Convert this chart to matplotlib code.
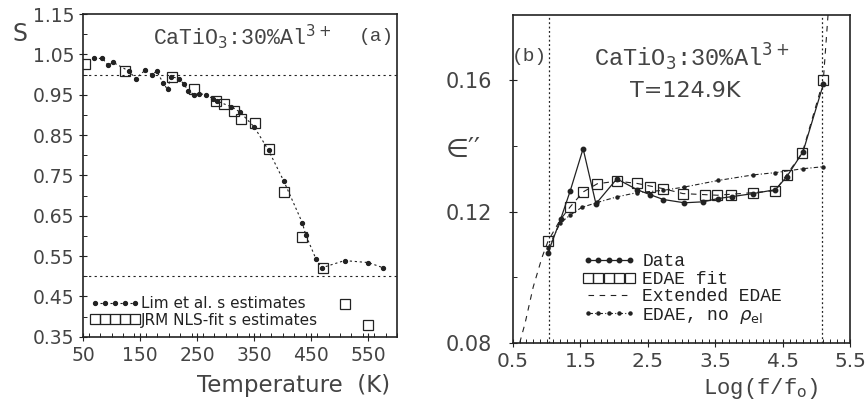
import matplotlib
matplotlib.use("Agg")
import matplotlib.pyplot as plt
from matplotlib.ticker import MultipleLocator, FixedLocator

# ---- panel (a): s estimates vs temperature ----
lim_T = [69, 84, 94, 103, 131, 142, 159, 170, 179, 190, 198, 204, 218, 227,
         234, 245, 253, 265, 278, 285, 310, 325, 350, 375, 402, 434, 440,
         458, 468, 508, 550, 576]
lim_S = [1.040, 1.040, 1.023, 1.030, 1.008, 0.990, 1.011, 1.000, 1.008, 0.980,
         0.963, 0.995, 0.990, 0.976, 0.960, 0.950, 0.953, 0.950, 0.940, 0.934,
         0.920, 0.907, 0.870, 0.812, 0.735, 0.633, 0.603, 0.543, 0.521, 0.539,
         0.534, 0.521]
jrm_T = [54, 124, 206, 244, 283, 297, 315, 327, 352, 375, 402, 433, 470, 508, 550]
jrm_S = [1.025, 1.008, 0.995, 0.964, 0.935, 0.926, 0.910, 0.890, 0.880, 0.816,
         0.710, 0.598, 0.520, 0.432, 0.380]
ref_S = [1.0, 0.5]

# ---- panel (b): loss spectrum ----
data_L = [1.02, 1.21, 1.35, 1.54, 1.73, 2.04, 2.34, 2.53, 2.73, 3.04, 3.32,
          3.54, 3.75, 4.06, 4.39, 4.56, 4.80, 5.10]
data_E = [0.1075, 0.1179, 0.1264, 0.1392, 0.1224, 0.1300, 0.1267, 0.1252,
          0.1237, 0.1227, 0.1230, 0.1240, 0.1246, 0.1255, 0.1267, 0.1307,
          0.1383, 0.1588]
fit_L = [1.02, 1.35, 1.54, 1.75, 2.04, 2.34, 2.53, 2.73, 3.02, 3.35, 3.53,
         3.73, 4.06, 4.39, 4.56, 4.79, 5.10]
fit_E = [0.1110, 0.1215, 0.1260, 0.1285, 0.1293, 0.1286, 0.1276, 0.1270,
         0.1255, 0.1250, 0.1250, 0.1252, 0.1258, 0.1264, 0.1313, 0.1380, 0.1600]
ext_L = [0.60, 0.68, 0.80, 0.93, 1.02, 1.20, 1.35, 1.54, 1.75, 2.04, 2.34,
         2.73, 3.02, 3.53, 4.06, 4.39, 4.56, 4.79, 5.10, 5.17]
ext_E = [0.0800, 0.0860, 0.0970, 0.1060, 0.1110, 0.1175, 0.1215, 0.1260,
         0.1285, 0.1293, 0.1286, 0.1270, 0.1255, 0.1250, 0.1258, 0.1264,
         0.1313, 0.1380, 0.1600, 0.1800]
norho_L = [1.02, 1.20, 1.35, 1.52, 1.75, 2.04, 2.34, 2.73, 3.04, 3.54, 4.06,
           4.39, 4.80, 5.10]
norho_E = [0.1090, 0.1165, 0.1190, 0.1213, 0.1228, 0.1245, 0.1258, 0.1265,
           0.1275, 0.1295, 0.1312, 0.1319, 0.1331, 0.1337]
vlines_L = [1.04, 5.08]

ink = "#222222"
grey = "#444444"
mono = "Liberation Mono"

fig = plt.figure(figsize=(8.65, 4.01), dpi=100)
axA = fig.add_axes([0.096, 0.160, 0.363, 0.805])
axB = fig.add_axes([0.593, 0.145, 0.390, 0.818])

for ax in (axA, axB):
    for sp in ax.spines.values():
        sp.set_color(ink)
        sp.set_linewidth(1.2)
    ax.tick_params(which="major", direction="inout", length=6, width=0.8,
                   colors=ink, labelcolor=grey, labelsize=13.5)
    ax.tick_params(which="minor", direction="in", length=3, width=0.7, colors=ink)
axB.tick_params(axis="y", which="major", labelsize=15, pad=12)
axB.tick_params(axis="x", which="major", labelsize=14.5)

# panel (a)
for s in ref_S:
    axA.axhline(s, color=ink, lw=0.8, ls=(0, (2, 3)))
axA.plot(lim_T, lim_S, color=ink, lw=0.8, ls=(0, (2, 2.5)), marker="o", ms=2.8,
         label="Lim et al. s estimates")
axA.plot(jrm_T, jrm_S, ls="none", marker="s", ms=7.5, mfc="none", mec=ink, mew=0.9,
         label="JRM NLS-fit s estimates")
axA.set_xlim(50, 600)
axA.set_ylim(0.35, 1.15)
axA.xaxis.set_major_locator(FixedLocator([50, 150, 250, 350, 450, 550]))
axA.xaxis.set_minor_locator(MultipleLocator(20))
axA.yaxis.set_major_locator(MultipleLocator(0.1, offset=0.05))
axA.yaxis.set_minor_locator(MultipleLocator(0.05))
axA.yaxis.set_major_formatter(lambda v, p: f"{v:.2f}")
axA.set_xlabel("Temperature  (K)", fontsize=16.5, color=grey, labelpad=2)
axA.xaxis.set_label_coords(0.67, -0.115)
fig.text(0.023, 0.915, "S", fontsize=17, color=grey, ha="center", va="center")
axA.text(0.506, 0.929, "CaTiO$_3$:30%Al$^{3+}$", transform=axA.transAxes,
         fontsize=15.5, family=mono, color=grey, ha="center", va="center")
axA.text(0.933, 0.929, "(a)", transform=axA.transAxes, fontsize=14,
         family=mono, color=grey, ha="center", va="center")
legA = axA.legend(loc="upper left", bbox_to_anchor=(0.0, 0.15), frameon=False,
                  numpoints=5, handlelength=3.2, handletextpad=0.1, borderpad=0,
                  labelspacing=0.1, prop={"size": 11})
for t in legA.get_texts():
    t.set_color(ink)

# panel (b)
for v in vlines_L:
    axB.axvline(v, color=ink, lw=0.9, ls=(0, (1.5, 2)))
axB.plot(ext_L, ext_E, color=ink, lw=0.8, ls=(0, (5, 5)), label="Extended EDAE")
axB.plot(norho_L, norho_E, color=ink, lw=0.8, ls=(0, (4, 2, 1, 2)), marker="o",
         ms=2.2, label="EDAE, no $\\rho_{\\rm el}$")
axB.plot(data_L, data_E, color=ink, lw=0.9, marker="o", ms=3.2, label="Data")
axB.plot(fit_L, fit_E, ls="none", marker="s", ms=7.5, mfc="none", mec=ink,
         mew=0.9, label="EDAE fit")
axB.set_xlim(0.5, 5.5)
axB.set_ylim(0.08, 0.18)
axB.xaxis.set_major_locator(MultipleLocator(1.0, offset=0.5))
axB.xaxis.set_minor_locator(MultipleLocator(0.1))
axB.yaxis.set_major_locator(FixedLocator([0.08, 0.12, 0.16]))
axB.yaxis.set_minor_locator(FixedLocator([0.10, 0.14]))
axB.yaxis.set_major_formatter(lambda v, p: f"{v:.2f}")
axB.set_xlabel("Log(f/f$_{\\rm o}$)", fontsize=16, family=mono, color=grey, labelpad=0)
axB.xaxis.set_label_coords(0.735, -0.1)
fig.text(0.535, 0.626, "\u2208\u2032\u2032", fontsize=19, color=grey,
         ha="center", va="center")
axB.text(0.05, 0.872, "(b)", transform=axB.transAxes, fontsize=14,
         family=mono, color=grey, ha="center", va="center")
axB.text(0.531, 0.872, "CaTiO$_3$:30%Al$^{3+}$", transform=axB.transAxes,
         fontsize=17, family=mono, color=grey, ha="center", va="center")
axB.text(0.51, 0.768, "T=124.9K", transform=axB.transAxes, fontsize=16,
         color=grey, ha="center", va="center")
h, l = axB.get_legend_handles_labels()
order = [2, 3, 0, 1]
legB = axB.legend([h[i] for i in order], [l[i] for i in order],
                  loc="upper left", bbox_to_anchor=(0.18, 0.30), frameon=False,
                  numpoints=5, handlelength=2.9, handletextpad=0.4, borderpad=0,
                  labelspacing=0.02, prop={"family": mono, "size": 13})
for t in legB.get_texts():
    t.set_color(ink)

fig.savefig("out.png", dpi=100)
